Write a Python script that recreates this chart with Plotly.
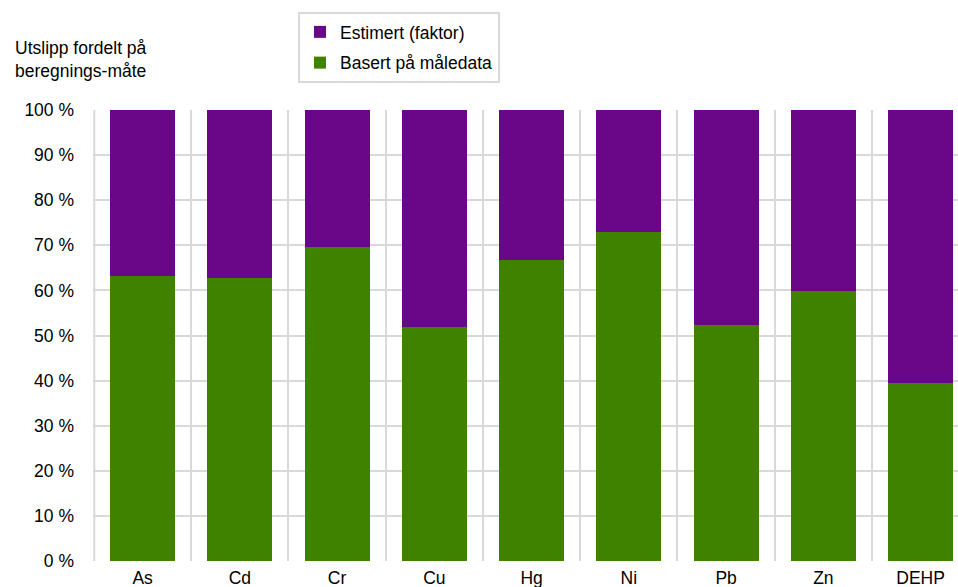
import plotly.graph_objects as go

categories = ["As", "Cd", "Cr", "Cu", "Hg", "Ni", "Pb", "Zn", "DEHP"]
basert = [63.2, 62.7, 69.6, 51.9, 66.7, 73.0, 52.3, 59.9, 39.5]
estimert = [round(100 - v, 1) for v in basert]
y_ticks = [0, 10, 20, 30, 40, 50, 60, 70, 80, 90, 100]
y_labels = [f"{v} %" for v in y_ticks]

FONT = "Liberation Sans, Arial, sans-serif"
FS = 17.5
GREEN = "#3f8200"
PURPLE = "#690788"
GRID = "#d9d9d9"

fig = go.Figure()
fig.add_trace(go.Bar(x=categories, y=basert, name="Basert på måledata",
                     legendgroup="b", legendrank=2,
                     marker=dict(color=GREEN, line=dict(width=0)), width=0.668))
fig.add_trace(go.Bar(x=categories, y=estimert, name="Estimert (faktor)",
                     legendgroup="e", legendrank=1,
                     marker=dict(color=PURPLE, line=dict(width=0)), width=0.668))

fig.update_layout(
    width=958, height=587,
    barmode="stack",
    margin=dict(l=93, r=0, t=110, b=26, pad=0),
    paper_bgcolor="white", plot_bgcolor="white",
    font=dict(family=FONT, size=FS, color="black"),
    showlegend=True,
    legend=dict(
        traceorder="grouped",
        x=(298 - 93) / 865, y=(561 - 12) / 451, xanchor="left", yanchor="top",
        bordercolor=GRID, borderwidth=2, bgcolor="white",
        font=dict(family=FONT, size=FS),
        itemwidth=30, tracegroupgap=5,
    ),
    annotations=[dict(
        text="Utslipp fordelt på<br>beregnings-måte",
        xref="paper", yref="paper",
        x=(13 - 93) / 865, y=(561 - 36) / 451,
        xanchor="left", yanchor="top", align="left", showarrow=False,
        font=dict(family=FONT, size=FS, color="black"),
    )],
    shapes=[dict(type="line", xref="paper", yref="paper", x0=0.0015, x1=0.0015, y0=0, y1=1,
                 line=dict(color=GRID, width=2), layer="above")],
)
fig.update_xaxes(
    range=[-0.51, (958 - 93) / 97.25 - 0.51],
    tickson="boundaries", showgrid=True, gridcolor=GRID, gridwidth=2,
    showline=False, zeroline=False, ticks="",
    ticklabelstandoff=4,
    tickfont=dict(family=FONT, size=FS),
)
fig.update_yaxes(
    range=[0, 100], tickvals=y_ticks, ticktext=y_labels,
    showgrid=True, gridcolor=GRID, gridwidth=2,
    zeroline=False, showline=False, ticks="",
    ticklabelstandoff=18,
    tickfont=dict(family=FONT, size=FS),
)

fig.write_html("out.html")
